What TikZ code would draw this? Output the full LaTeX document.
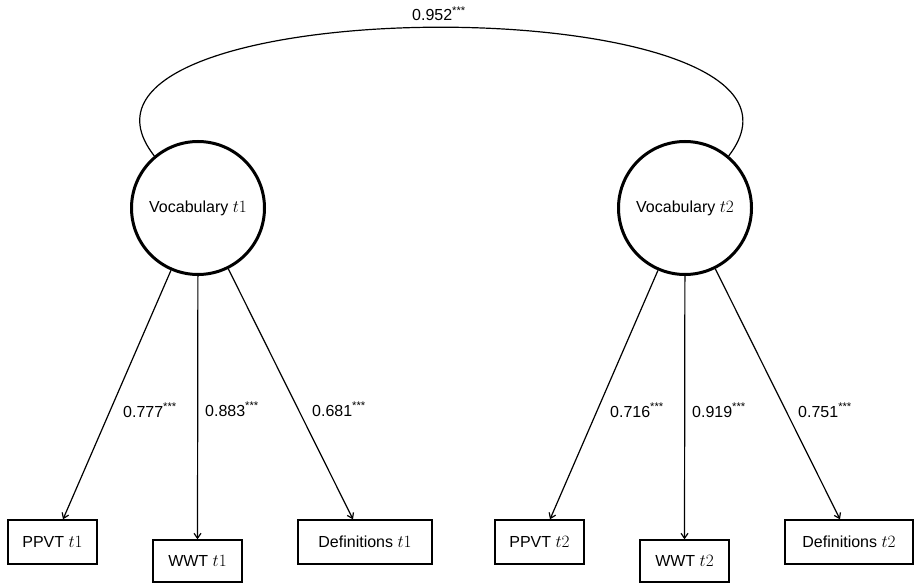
\documentclass[tikz,border=0pt]{standalone}
\usepackage{fontspec}
\setmainfont{Liberation Sans}
\usetikzlibrary{arrows.meta,calc}
\begin{document}
\begin{tikzpicture}[x=1pt,y=-1pt,
  txt/.style={font=\fontsize{16}{19}\selectfont},
  latent/.style={circle,draw,line width=3pt,minimum size=133pt,inner sep=0pt,txt},
  obs/.style={draw,line width=1.4pt,minimum height=44pt,inner sep=0pt,txt},
  load/.style={-{Straight Barb[length=5pt,width=7pt]},line width=1.2pt},
  lab/.style={anchor=base west,inner sep=0pt,txt}]
\useasboundingbox (0,0) rectangle (915,583);
% latent variables
\node[latent] (v1) at (198,208) {Vocabulary $t1$};
\node[latent] (v2) at (685,208) {Vocabulary $t2$};
% observed indicators
\node[obs,minimum width=89pt] (p1) at (52.5,542) {PPVT $t1$};
\node[obs,minimum width=89pt,minimum height=42pt] (w1) at (197.5,561) {WWT $t1$};
\node[obs,minimum width=134pt] (d1) at (365,542) {Definitions $t1$};
\node[obs,minimum width=89pt] (p2) at (539.5,542) {PPVT $t2$};
\node[obs,minimum width=89pt,minimum height=42pt] (w2) at (684.5,561) {WWT $t2$};
\node[obs,minimum width=128pt] (d2) at (849,542) {Definitions $t2$};
% loadings
\draw[load] (v1) -- ([xshift=10.5pt]p1.north);
\draw[load] (v1) -- (w1.north);
\draw[load] (v1) -- ([xshift=-12pt]d1.north);
\draw[load] (v2) -- ([xshift=10.5pt]p2.north);
\draw[load] (v2) -- (w2.north);
\draw[load] (v2) -- ([xshift=-9pt]d2.north);
% covariance
\draw[line width=1.2pt] (v1.130) .. controls (20,-15.7) and (861,-15.7) .. (v2.50);
% labels
\node[lab] (l0) at (412,21) {0.952\textsuperscript{***}};
\node[lab] (l1) at (123,417) {0.777\textsuperscript{***}};
\node[lab] (l2) at (205,416) {0.883\textsuperscript{***}};
\node[lab] (l3) at (312,416) {0.681\textsuperscript{***}};
\node[lab] (l4) at (610,417) {0.716\textsuperscript{***}};
\node[lab] (l5) at (692,417) {0.919\textsuperscript{***}};
\node[lab] (l6) at (798,417) {0.751\textsuperscript{***}};
\end{tikzpicture}
\end{document}
